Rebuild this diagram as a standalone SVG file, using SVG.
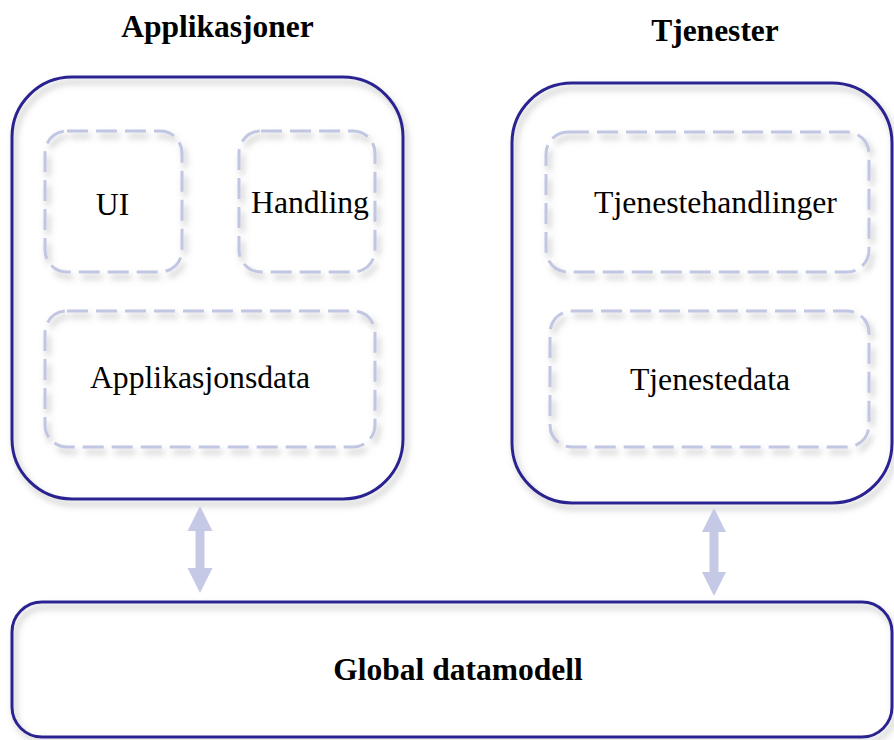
<svg xmlns="http://www.w3.org/2000/svg" width="894" height="740" viewBox="0 0 894 740">
  <defs>
    <filter id="soft" x="-10%" y="-10%" width="120%" height="130%">
      <feDropShadow dx="3" dy="5" stdDeviation="3" flood-color="#777777" flood-opacity="0.5"/>
    </filter>
    <style>
      .outer { fill: none; stroke: #2c2491; stroke-width: 3; filter: url(#soft); }
      .inner { fill: none; stroke: #c1c6e3; stroke-width: 3; stroke-dasharray: 21 8; filter: url(#soft); }
      .title { font-family: "Liberation Serif", "Times New Roman", serif; font-weight: bold; font-size: 31.5px; fill: #000; text-anchor: middle; }
      .label { font-family: "Liberation Serif", "Times New Roman", serif; font-size: 31.7px; fill: #000; text-anchor: middle; }
      .arrow { fill: #c5c9e6; }
    </style>
  </defs>

  <rect x="0" y="0" width="894" height="740" fill="#ffffff"/>

  <!-- Applications container -->
  <g id="applikasjoner">
    <text class="title" x="217.5" y="37">Applikasjoner</text>
    <rect class="outer" x="12" y="77" width="391" height="422" rx="60" ry="60"/>
  </g>
  <g id="ui">
    <rect class="inner" x="45" y="131" width="137" height="141" rx="22" ry="22"/>
    <text class="label" x="112.5" y="215">UI</text>
  </g>
  <g id="handling">
    <rect class="inner" x="239" y="131" width="136" height="141" rx="22" ry="22"/>
    <text class="label" x="310" y="213">Handling</text>
  </g>
  <g id="applikasjonsdata">
    <rect class="inner" x="45" y="311" width="330" height="136" rx="22" ry="22"/>
    <text class="label" x="200" y="388">Applikasjonsdata</text>
  </g>

  <!-- Services container -->
  <g id="tjenester">
    <text class="title" x="715" y="41">Tjenester</text>
    <rect class="outer" x="512" y="83" width="380" height="420" rx="60" ry="60"/>
  </g>
  <g id="tjenestehandlinger">
    <rect class="inner" x="546" y="132" width="323" height="140" rx="22" ry="22"/>
    <text class="label" x="715.5" y="213">Tjenestehandlinger</text>
  </g>
  <g id="tjenestedata">
    <rect class="inner" x="550" y="311" width="319" height="136" rx="22" ry="22"/>
    <text class="label" x="710" y="390">Tjenestedata</text>
  </g>

  <!-- Shared data model -->
  <g id="global-datamodell">
    <rect class="outer" x="12" y="602" width="880" height="135" rx="30" ry="30"/>
    <text class="title" x="458" y="680">Global datamodell</text>
  </g>

  <!-- Two-way links to the data model -->
  <g id="connectors">
    <polygon class="arrow" points="200,506 212.5,531 204.5,531 204.5,568 212.5,568 200,593 187.5,568 195.5,568 195.5,531 187.5,531"/>
    <polygon class="arrow" points="714,508 726,532 718.5,532 718.5,572 726,572 714,596 702,572 709.5,572 709.5,532 702,532"/>
  </g>
</svg>
